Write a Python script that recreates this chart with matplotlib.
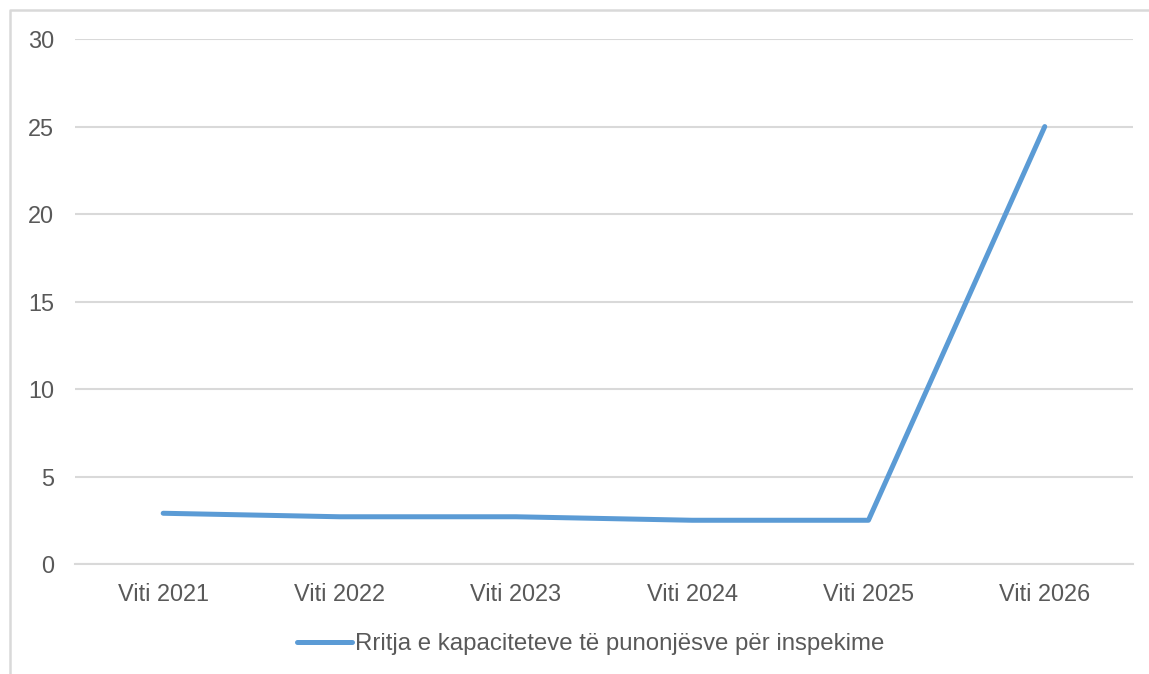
import matplotlib.pyplot as plt
from matplotlib.lines import Line2D

plt.rcParams['font.family'] = ['Liberation Sans', 'DejaVu Sans']

years = ['Viti 2021', 'Viti 2022', 'Viti 2023', 'Viti 2024', 'Viti 2025', 'Viti 2026']
values = [2.9, 2.7, 2.7, 2.5, 2.5, 25]
series_name = 'Rritja e kapaciteteve të punonjësve për inspekime'

txt = '#595959'
grid = '#D9D9D9'

fig = plt.figure(figsize=(11.49, 6.74), dpi=100)
ax = fig.add_axes([0.0653, 0.1632, 0.9207, 0.7788])

x = range(len(years))
line, = ax.plot(x, values, color='#5B9BD5', linewidth=3.6, solid_capstyle='round',
                solid_joinstyle='round', label=series_name)

ax.set_xlim(-0.5, len(years) - 0.5)
ax.set_ylim(0, 30)
ax.set_yticks(range(0, 31, 5))
ax.set_xticks(list(x))
ax.set_xticklabels(years)
ax.grid(axis='y', color=grid, linewidth=1.5)
ax.set_axisbelow(True)
for s in ['top', 'right', 'left']:
    ax.spines[s].set_visible(False)
ax.spines['bottom'].set_color(grid)
ax.spines['bottom'].set_linewidth(1.5)
ax.tick_params(axis='both', length=0, labelsize=16.9, labelcolor=txt)
ax.tick_params(axis='y', pad=15)
ax.tick_params(axis='x', pad=14)

fig.legend(handles=[line], loc='center', bbox_to_anchor=(0.514, 0.044), frameon=False,
           fontsize=17.3, labelcolor=txt, handlelength=2.3, handletextpad=0.1)

# outer frame: only left and top edges are visible in the source image
fx = 10 / 1149
fy = 1 - 10 / 674
fig.lines.append(Line2D([fx, fx, 1.0], [0.0, fy, fy], transform=fig.transFigure,
                        color=grid, linewidth=1.8))

fig.savefig('out.png', dpi=100)
